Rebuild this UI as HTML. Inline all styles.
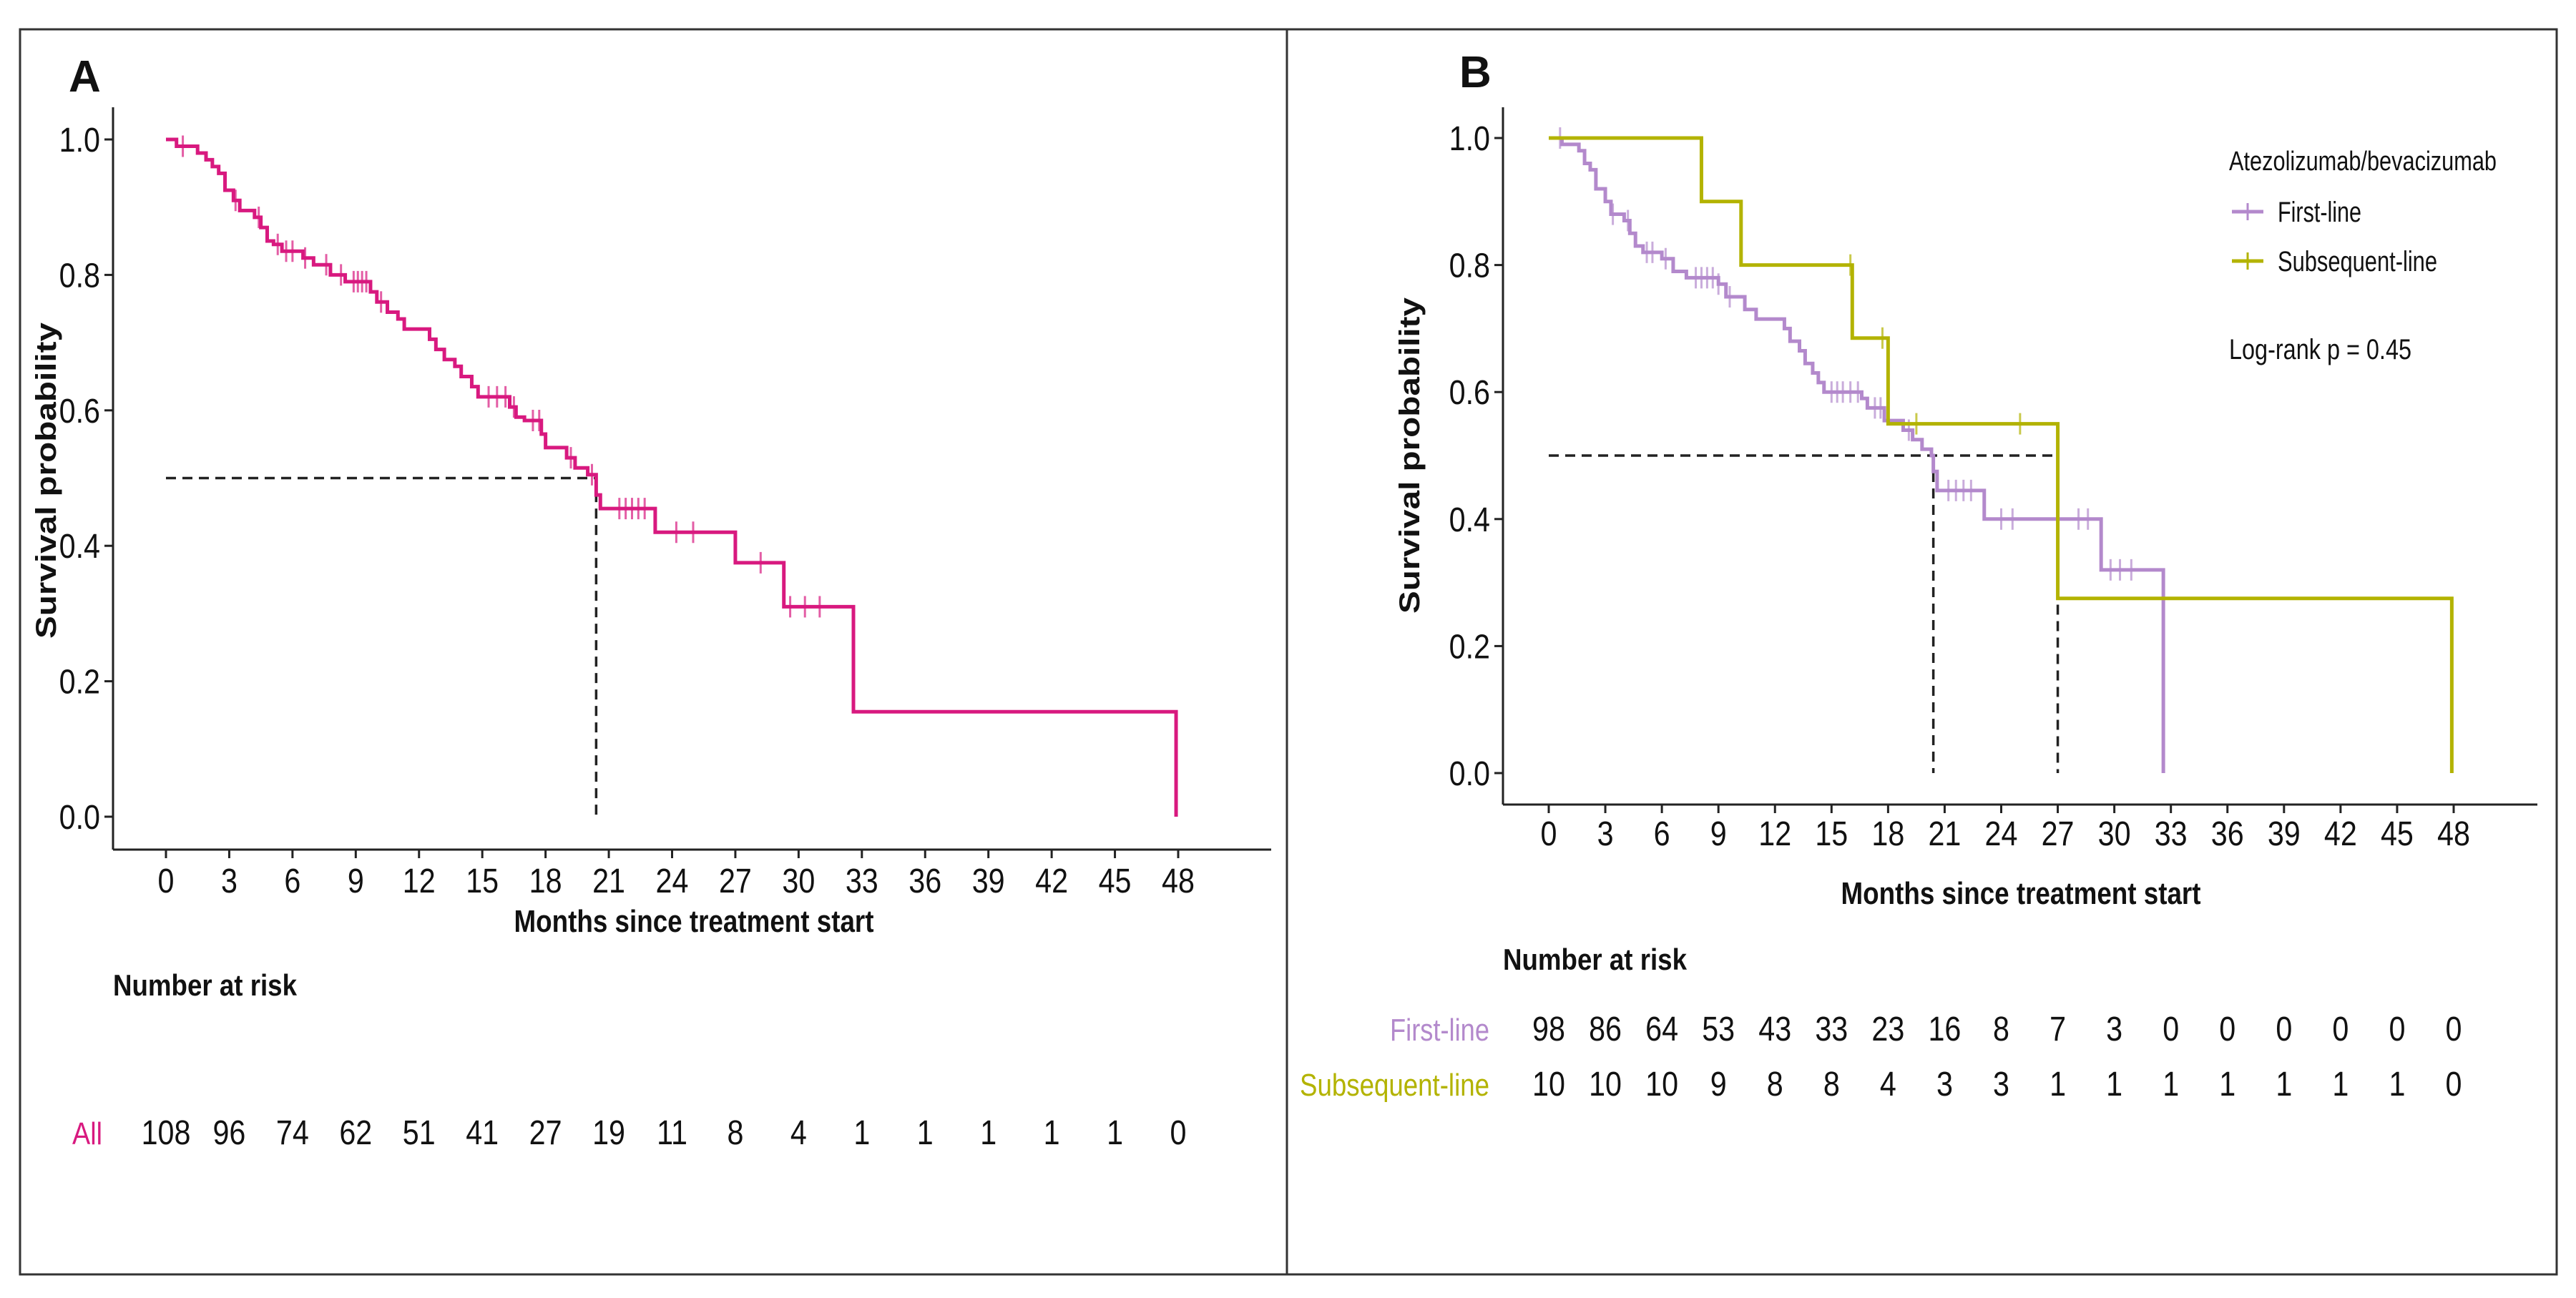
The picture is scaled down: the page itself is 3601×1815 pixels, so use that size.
<!DOCTYPE html>
<html><head><meta charset="utf-8"><style>
html,body{margin:0;padding:0;background:#fff;}
svg{display:block;font-family:"Liberation Sans",Arial,sans-serif;}
</style></head><body>
<svg id="fig" width="3601" height="1815" viewBox="0 0 3601 1815" xmlns="http://www.w3.org/2000/svg">
<rect x="0" y="0" width="3601" height="1815" fill="#fff"/>
<rect x="28" y="41" width="3546" height="1741" fill="none" stroke="#333" stroke-width="3"/>
<line x1="1799" y1="41" x2="1799" y2="1782" stroke="#333" stroke-width="3"/>
<g id="gA"></g><g id="gB"></g>
</svg>
<script>
// ---- data ----
const monthTicks = [0,3,6,9,12,15,18,21,24,27,30,33,36,39,42,45,48];
const probTicks = [0,0.2,0.4,0.6,0.8,1.0];
const allTimes = [0,0.5,1.5,1.9,2.2,2.5,2.8,3.2,3.5,4.2,4.5,4.8,5.1,5.5,6.5,7.0,7.8,8.5,9.7,10.0,10.5,11.0,11.3,12.5,12.8,13.2,13.7,14.0,14.5,14.8,16.3,16.6,17.0,17.8,18.0,19.0,19.4,20.0,20.4,20.6,23.2,27.0,29.3,32.6,47.9];
const allSurv  = [1.0,0.99,0.98,0.97,0.96,0.95,0.925,0.91,0.895,0.885,0.87,0.85,0.845,0.835,0.825,0.815,0.80,0.79,0.775,0.76,0.745,0.735,0.72,0.705,0.69,0.675,0.665,0.65,0.635,0.62,0.605,0.59,0.585,0.565,0.545,0.53,0.515,0.505,0.475,0.455,0.42,0.375,0.31,0.155,0.0];
const allCensor = [0.8,3.3,4.4,5.3,5.7,6.0,6.6,7.6,8.3,8.9,9.1,9.3,9.5,10.2,15.3,15.7,16.1,16.5,17.4,17.7,19.2,20.2,21.5,21.8,22.1,22.4,22.7,24.2,25.0,28.2,29.6,30.3,31.0];
const allRisk = [108,96,74,62,51,41,27,19,11,8,4,1,1,1,1,1,0];
const firstTimes = [0,0.7,1.6,1.9,2.2,2.5,3.0,3.3,4.0,4.3,4.6,5.0,6.0,6.6,7.3,9.0,9.4,10.4,11.0,12.5,12.8,13.3,13.6,14.0,14.3,14.6,16.6,16.9,17.8,18.8,19.3,19.8,20.3,20.4,20.6,23.1,29.3,32.6];
const firstSurv  = [1.0,0.99,0.98,0.96,0.95,0.92,0.90,0.88,0.87,0.85,0.83,0.82,0.81,0.79,0.78,0.77,0.75,0.73,0.715,0.70,0.68,0.665,0.645,0.63,0.615,0.60,0.59,0.575,0.555,0.54,0.525,0.51,0.50,0.475,0.445,0.40,0.32,0.0];
const firstCensor = [0.6,3.4,4.2,5.2,5.5,6.2,7.8,8.1,8.4,8.7,9.0,9.6,15.0,15.3,15.6,16.0,16.4,17.3,17.6,19.1,21.2,21.6,22.0,22.4,24.0,24.6,28.1,28.6,29.8,30.3,30.9];
const subTimes = [0,8.1,10.2,16.1,18.0,27.0,47.9];
const subSurv  = [1.0,0.9,0.8,0.685,0.55,0.275,0.0];
const subCensor = [16.0,17.7,19.5,25.0];
const firstRisk = [98,86,64,53,43,33,23,16,8,7,3,0,0,0,0,0,0];
const subRisk = [10,10,10,9,8,8,4,3,3,1,1,1,1,1,1,1,0];

const NS="http://www.w3.org/2000/svg";
function mk(parent,tag,attrs){const e=document.createElementNS(NS,tag);for(const k in attrs)e.setAttribute(k,attrs[k]);parent.appendChild(e);return e;}
function txt(parent,x,y,s,size,opts){
  opts=opts||{};
  const e=mk(parent,'text',{x:0,y:0,'font-size':size,fill:opts.fill||'#111','text-anchor':opts.anchor||'middle','font-weight':opts.bold?'bold':'normal'});
  if(opts.len){e.setAttribute('textLength',opts.len);e.setAttribute('lengthAdjust','spacingAndGlyphs');}
  let tr='translate('+x+','+y+')';
  if(opts.rot)tr+=' rotate('+opts.rot+')';
  if(opts.sx)tr+=' scale('+opts.sx+',1)';
  e.setAttribute('transform',tr);
  e.textContent=s;return e;
}
function stepOf(times,surv,t){let v=surv[0];for(let i=0;i<times.length;i++){if(times[i]<=t)v=surv[i];}return v;}

function panel(g,cfg){
  const X=m=>cfg.x0+(m/48)*(cfg.x48-cfg.x0);
  const Y=p=>cfg.y0-p*(cfg.y0-cfg.y1);
  // axes
  let e=mk(g,'line',{x1:cfg.ax,y1:cfg.axTop,x2:cfg.ax,y2:cfg.ay,stroke:'#222','stroke-width':3});
   
  e=mk(g,'line',{x1:cfg.ax,y1:cfg.ay,x2:cfg.axRight,y2:cfg.ay,stroke:'#222','stroke-width':3});
   
  probTicks.forEach(p=>{
    mk(g,'line',{x1:cfg.ax-12,y1:Y(p),x2:cfg.ax,y2:Y(p),stroke:'#222','stroke-width':3});
    const t=txt(g,cfg.ax-18,Y(p)+17,p.toFixed(1),48,{anchor:'end',sx:0.86});
     
  });
  monthTicks.forEach(m=>{
    mk(g,'line',{x1:X(m),y1:cfg.ay,x2:X(m),y2:cfg.ay+12,stroke:'#222','stroke-width':3});
    const t=txt(g,X(m),cfg.tickY,String(m),48,{sx:0.86});
     
  });
  let t=txt(g,cfg.xtX,cfg.xtY,'Months since treatment start',44,{bold:true,len:503});
   
  t=txt(g,cfg.ytX,cfg.ytY,'Survival probability',40,{bold:true,rot:-90,len:442});
   
  t=txt(g,cfg.lx,cfg.ly,cfg.letter,62,{bold:true,anchor:'start'});
   
  t=txt(g,cfg.ax,cfg.nrY,'Number at risk',42,{bold:true,anchor:'start',len:257});
   
  // median dashed lines
  const med=mk(g,'path',{d:cfg.medPath(X,Y),fill:'none',stroke:'#222','stroke-width':3.5,'stroke-dasharray':'14,9'});
   
  // series
  cfg.series.forEach(s=>{
    let d='M'+X(s.times[0])+','+Y(s.surv[0]);
    for(let i=1;i<s.times.length;i++){d+=' H'+X(s.times[i])+' V'+Y(s.surv[i]);}
    const p=mk(g,'path',{d:d,fill:'none',stroke:s.color,'stroke-width':5});
     
    s.censor.forEach(c=>{
      const v=stepOf(s.times,s.surv,c);
      const cm=mk(g,'line',{x1:X(c),y1:Y(v)-15,x2:X(c),y2:Y(v)+15,stroke:s.color,'stroke-width':3,opacity:0.7});
       
    });
    const rl=txt(g,cfg.riskLabelX,s.riskY,s.label,44,{anchor:'end',fill:s.color,len:s.labelLen});
     
    s.risk.forEach((r,i)=>{
      const rt=txt(g,X(monthTicks[i]),s.riskY,String(r),48,{sx:0.86});
       
    });
  });
}

const pink='#d8197f', purple='#b389cc', olive='#b3b300';
panel(document.getElementById('gA'),{
  letter:'A',lx:96,ly:128,
  x0:232,x48:1647,y0:1142,y1:195,ax:158,axTop:150,ay:1188,axRight:1777,
  tickY:1248,xtX:970,xtY:1303,ytX:78,ytY:672,nrY:1392,riskLabelX:143,
  medPath:(X,Y)=>'M'+X(0)+','+Y(0.5)+' H'+X(20.4)+' V'+Y(0),
  series:[{name:'all',label:'All',labelLen:42,color:pink,times:allTimes,surv:allSurv,censor:allCensor,risk:allRisk,riskY:1600}]
});
panel(document.getElementById('gB'),{
  letter:'B',lx:2040,ly:122,
  x0:2165,x48:3430,y0:1081,y1:193,ax:2101,axTop:150,ay:1125,axRight:3547,
  tickY:1182,xtX:2825,xtY:1264,ytX:1984,ytY:637,nrY:1356,riskLabelX:2082,
  medPath:(X,Y)=>'M'+X(0)+','+Y(0.5)+' H'+X(27)+' V'+Y(0)+' M'+X(20.4)+','+Y(0.5)+' V'+Y(0),
  series:[
    {name:'first-line',label:'First-line',labelLen:139,color:purple,times:firstTimes,surv:firstSurv,censor:firstCensor,risk:firstRisk,riskY:1455},
    {name:'subsequent-line',label:'Subsequent-line',labelLen:265,color:olive,times:subTimes,surv:subSurv,censor:subCensor,risk:subRisk,riskY:1532}
  ]
});
// legend
const gB=document.getElementById('gB');
let lt=txt(gB,3116,238,'Atezolizumab/bevacizumab',38,{anchor:'start',len:374});
 
[[purple,'First-line',296,117],[olive,'Subsequent-line',365,223]].forEach(a=>{
  const l=mk(gB,'line',{x1:3120,y1:a[2],x2:3164,y2:a[2],stroke:a[0],'stroke-width':5});
   
  mk(gB,'line',{x1:3142,y1:a[2]-12,x2:3142,y2:a[2]+12,stroke:a[0],'stroke-width':3});
  const t=txt(gB,3184,a[2]+14,a[1],40,{anchor:'start',len:a[3]});
   
});
lt=txt(gB,3116,502,'Log-rank   p = 0.45',40,{anchor:'start',len:255});
 
</script>
</body></html>
